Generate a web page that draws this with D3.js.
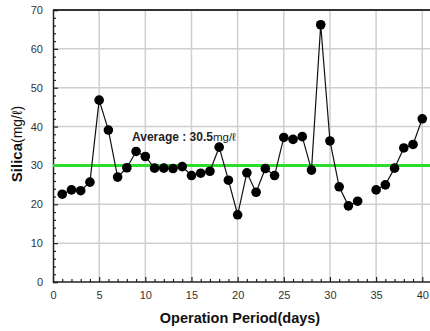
<!DOCTYPE html>
<html>
<head>
<meta charset="utf-8">
<script src="https://cdn.jsdelivr.net/npm/d3@7"></script>
<style>
  html, body { margin: 0; padding: 0; background: #fff; }
  svg { display: block; font-family: Arial, "Liberation Sans", sans-serif; }
</style>
</head>
<body>
<svg id="chart" width="430" height="331"></svg>
<script>
// ---- data ----
const days = [1,2,3,4,5,6,7,8,9,10,11,12,13,14,15,16,17,18,19,20,21,22,23,24,25,26,27,28,29,30,31,32,33,34,35,36,37,38,39,40];
const silica = [22.6,23.7,23.5,25.7,46.8,39.1,27.0,29.4,33.6,32.3,29.3,29.3,29.2,29.7,27.4,28.0,28.5,34.7,26.2,17.3,
                28.1,23.1,29.2,27.4,37.2,36.7,37.4,28.8,66.2,36.3,24.5,19.6,20.8,null,23.7,25.0,29.3,34.5,35.4,42.0];
const averageValue = 30;
const averageLabel = "30.5";
const xTicks = [0,5,10,15,20,25,30,35,40];
const yTicks = [0,10,20,30,40,50,60,70];

// ---- layout ----
const svg = d3.select("#chart");
const mLeft = 53, mTop = 10, mBottom = 282, mRight = 431.5;
const x = d3.scaleLinear().domain([0, 41]).range([mLeft, mRight]);
const y = d3.scaleLinear().domain([0, 70]).range([mBottom, mTop]);

// gridlines
svg.append("g").selectAll("line").data(xTicks.filter(d => d > 0)).join("line")
  .attr("x1", d => x(d)).attr("x2", d => x(d)).attr("y1", mTop).attr("y2", mBottom)
  .attr("stroke", "#cfcfcf").attr("stroke-width", 1.5);
svg.append("g").selectAll("line").data(yTicks.filter(d => d > 0 && d < 70)).join("line")
  .attr("x1", mLeft).attr("x2", 430).attr("y1", d => y(d)).attr("y2", d => y(d))
  .attr("stroke", "#cfcfcf").attr("stroke-width", 1.5);

// top border
svg.append("line").attr("x1", mLeft).attr("x2", 430).attr("y1", mTop).attr("y2", mTop)
  .attr("stroke", "#333").attr("stroke-width", 2);

// axes
const yAxis = d3.axisLeft(y).tickValues(yTicks).tickSize(-5).tickPadding(10);
const gy = svg.append("g").attr("transform", `translate(${mLeft},0)`).call(yAxis);
const yMinor = d3.axisLeft(y).tickValues(d3.range(0, 71, 2).filter(d => d % 10 !== 0)).tickSize(-3).tickFormat("");
svg.append("g").attr("transform", `translate(${mLeft},0)`).call(yMinor).select(".domain").remove();

const xAxis = d3.axisBottom(x).tickValues(xTicks).tickSize(-5).tickPadding(9);
const gx = svg.append("g").attr("transform", `translate(0,${mBottom})`).call(xAxis);
const xMinor = d3.axisBottom(x).tickValues(d3.range(0, 41, 1).filter(d => d % 5 !== 0)).tickSize(-3).tickFormat("");
svg.append("g").attr("transform", `translate(0,${mBottom})`).call(xMinor).select(".domain").remove();

svg.selectAll(".domain").attr("stroke", "#222").attr("stroke-width", 1.5);
svg.selectAll(".tick line").attr("stroke", "#222").attr("stroke-width", 1.2);
svg.selectAll(".tick text").attr("font-size", 11).attr("fill", "#333").attr("font-family", "Arial, 'Liberation Sans', sans-serif");
gx.select(".domain").attr("d", `M${mLeft},0H${430}`);

// average line
svg.append("line").attr("x1", mLeft).attr("x2", 430)
  .attr("y1", y(averageValue)).attr("y2", y(averageValue))
  .attr("stroke", "#2ddd2d").attr("stroke-width", 3);

// data line
const pts = days.map((d, i) => ({ d, v: silica[i] }));
const line = d3.line().defined(p => p.v !== null).x(p => x(p.d)).y(p => y(p.v));
svg.append("path").datum(pts).attr("d", line)
  .attr("fill", "none").attr("stroke", "#111").attr("stroke-width", 1.2);
svg.append("g").selectAll("circle").data(pts.filter(p => p.v !== null)).join("circle")
  .attr("cx", p => x(p.d)).attr("cy", p => y(p.v)).attr("r", 4.8).attr("fill", "#000");

// average label
const avg = svg.append("text").attr("x", 132).attr("y", 141).attr("fill", "#222");
avg.append("tspan").attr("font-weight", "bold").attr("font-size", 12).text("Average : " + averageLabel);
avg.append("tspan").attr("font-size", 11.5).text("mg/ℓ");

// axis titles
svg.append("text").attr("x", 240).attr("y", 323).attr("text-anchor", "middle")
  .attr("font-weight", "bold").attr("font-size", 14.5).attr("fill", "#111")
  .text("Operation Period(days)");
const yt = svg.append("text").attr("transform", "translate(22,144) rotate(-90)")
  .attr("text-anchor", "middle").attr("fill", "#111");
yt.append("tspan").attr("font-weight", "bold").attr("font-size", 15).text("Silica");
yt.append("tspan").attr("font-size", 14).text("(mg/ℓ)");
</script>
</body>
</html>
